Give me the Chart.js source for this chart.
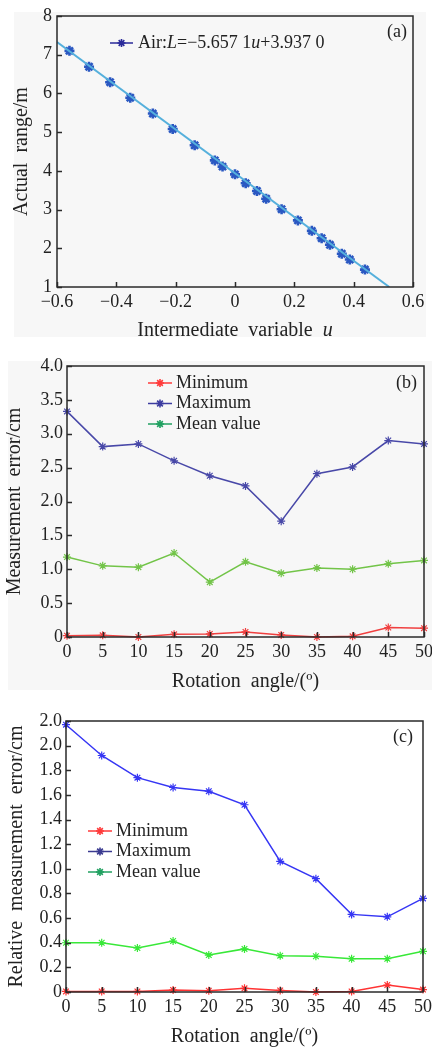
<!DOCTYPE html>
<html>
<head>
<meta charset="utf-8">
<script src="https://cdn.jsdelivr.net/npm/chart.js@4.4.1/dist/chart.umd.min.js"></script>
<style>
  body { margin: 0; background: #fff; width: 432px; height: 1047px; position: relative; overflow: hidden; }
  .bg { position: absolute; background: #f7f7f7; }
  canvas { position: absolute; left: 0; }
</style>
</head>
<body>
<div class="bg" style="left:14px;top:12px;width:412px;height:325px"></div>
<div class="bg" style="left:8px;top:361px;width:424px;height:329px"></div>
<canvas id="chartA" width="432" height="340" style="top:0"></canvas>
<canvas id="chartB" width="432" height="352" style="top:340px"></canvas>
<canvas id="chartC" width="432" height="355" style="top:692px"></canvas>
<script>
// ---- data ----
// (a) actual range vs intermediate variable u
const uValues = [-0.558, -0.492, -0.421, -0.353, -0.277, -0.210, -0.136, -0.068, -0.042, 0.000, 0.036,
                 0.074, 0.105, 0.157, 0.212, 0.259, 0.292, 0.320, 0.360, 0.387, 0.438];
const rangeValues = [7.10, 6.69, 6.29, 5.89, 5.48, 5.08, 4.66, 4.27, 4.11, 3.91, 3.68,
                     3.48, 3.28, 3.01, 2.72, 2.45, 2.26, 2.09, 1.86, 1.71, 1.45];
const fitU = [-0.6, 0.52];
const fitL = [7.33, 1.0];
const xTicksA = [-0.6, -0.4, -0.2, 0, 0.2, 0.4, 0.6];
const xTickLabelsA = ['\u22120.6', '\u22120.4', '\u22120.2', '0', '0.2', '0.4', '0.6'];
const yTicksA = [1, 2, 3, 4, 5, 6, 7, 8];
const yTickLabelsA = ['1', '2', '3', '4', '5', '6', '7', '8'];

// (b) measurement error, (c) relative measurement error
const angles = [0, 5, 10, 15, 20, 25, 30, 35, 40, 45, 50];
const angleLabels = ['0', '5', '10', '15', '20', '25', '30', '35', '40', '45', '50'];
const errMin = [0.02, 0.025, 0, 0.04, 0.045, 0.075, 0.03, 0, 0.01, 0.14, 0.13];
const errMax = [3.33, 2.81, 2.85, 2.60, 2.38, 2.23, 1.71, 2.41, 2.51, 2.90, 2.85];
const errMean = [1.18, 1.05, 1.03, 1.24, 0.81, 1.11, 0.94, 1.02, 1.00, 1.08, 1.13];
const yTicksB = [0, 0.5, 1, 1.5, 2, 2.5, 3, 3.5, 4];
const yTickLabelsB = ['0', '0.5', '1.0', '1.5', '2.0', '2.5', '3.0', '3.5', '4.0'];

const relMin = [0.005, 0.005, 0.005, 0.016, 0.01, 0.03, 0.013, 0, 0.005, 0.057, 0.02];
const relMax = [2.17, 1.92, 1.74, 1.66, 1.63, 1.52, 1.06, 0.92, 0.63, 0.61, 0.76];
const relMean = [0.40, 0.40, 0.357, 0.414, 0.30, 0.35, 0.295, 0.29, 0.27, 0.27, 0.33];
const yTicksC = [0, 0.2, 0.4, 0.6, 0.8, 1.0, 1.2, 1.4, 1.6, 1.8, 2.0, 2.2];
const yTickLabelsC = ['0', '0.2', '0.4', '0.6', '0.8', '1.0', '1.2', '1.4', '1.6', '1.8', '2.0', '2.0'];

const seriesNames = ['Minimum', 'Maximum', 'Mean value'];

// ---- helpers ----
const FAMILY = '"Liberation Serif", "DejaVu Serif", serif';
const font = (size, italic) => `${italic ? 'italic ' : ''}${size}px ${FAMILY}`;
const pts = (xs, ys) => xs.map((x, i) => ({ x: x, y: ys[i] }));

function drawStar(ctx, x, y, r, color, lw) {
  ctx.save();
  ctx.strokeStyle = color;
  ctx.lineWidth = lw;
  ctx.beginPath();
  for (let k = 0; k < 4; k++) {
    const a = k * Math.PI / 4;
    ctx.moveTo(x - r * Math.cos(a), y - r * Math.sin(a));
    ctx.lineTo(x + r * Math.cos(a), y + r * Math.sin(a));
  }
  ctx.stroke();
  ctx.restore();
}

function runsWidth(ctx, runs, size) {
  let w = 0;
  runs.forEach(r => { ctx.font = font(size, r.i); w += ctx.measureText(r.t).width; });
  return w;
}

function drawRuns(ctx, runs, x, y, size) {
  let cx = x;
  runs.forEach(r => {
    ctx.font = font(size, r.i);
    ctx.fillText(r.t, cx, y);
    cx += ctx.measureText(r.t).width;
  });
}

// frame, inward ticks, titles, legend
const panelPlugin = {
  id: 'panel',
  afterDraw(chart, args, opts) {
    const ctx = chart.ctx;
    const a = chart.chartArea;
    const xs = chart.scales.x, ys = chart.scales.y;
    ctx.save();
    ctx.strokeStyle = '#2a2a2a';
    ctx.lineWidth = 1.5;
    ctx.beginPath();
    xs.ticks.forEach(t => {
      const px = Math.round(xs.getPixelForValue(t.value)) + 0.5;
      ctx.moveTo(px, a.bottom); ctx.lineTo(px, a.bottom - 5);
    });
    ys.ticks.forEach(t => {
      const py = Math.round(ys.getPixelForValue(t.value)) + 0.5;
      ctx.moveTo(a.left, py); ctx.lineTo(a.left + 5, py);
    });
    ctx.stroke();
    ctx.strokeRect(a.left, a.top, a.right - a.left, a.bottom - a.top);

    ctx.fillStyle = '#222';
    ctx.textBaseline = 'middle';
    // x title
    const xt = opts.xTitle;
    const xw = runsWidth(ctx, xt.runs, xt.size);
    drawRuns(ctx, xt.runs, (a.left + a.right) / 2 - xw / 2, xt.y, xt.size);
    // y title
    const yt = opts.yTitle;
    ctx.save();
    ctx.translate(yt.x, (a.top + a.bottom) / 2);
    ctx.rotate(-Math.PI / 2);
    const yw = runsWidth(ctx, yt.runs, yt.size);
    drawRuns(ctx, yt.runs, -yw / 2, 0, yt.size);
    ctx.restore();
    // panel tag
    ctx.font = font(18);
    ctx.textAlign = 'right';
    ctx.fillText(opts.tag.text, opts.tag.x, opts.tag.y);
    ctx.textAlign = 'left';
    // legend
    const lg = opts.legend;
    lg.items.forEach((it, i) => {
      const y = lg.y + i * lg.gap;
      ctx.strokeStyle = it.color;
      ctx.lineWidth = 1.5;
      ctx.beginPath();
      ctx.moveTo(lg.x1, y); ctx.lineTo(lg.x2, y);
      ctx.stroke();
      drawStar(ctx, (lg.x1 + lg.x2) / 2, y, 4, it.color, 1.6);
      ctx.fillStyle = '#222';
      drawRuns(ctx, it.runs, lg.tx, y, lg.size);
    });
    ctx.restore();
  }
};

function fixedX(h) {
  return scale => { scale.height = h; scale.paddingLeft = 0; scale.paddingRight = 0; };
}
function fixedY(w) {
  return scale => { scale.width = w; scale.paddingTop = 0; scale.paddingBottom = 0; };
}
function setTicks(values) {
  return scale => { scale.ticks = values.map(v => ({ value: v })); };
}

function axis(min, max, values, labels, fit, pad) {
  return {
    type: 'linear',
    min: min,
    max: max,
    grid: { display: false, drawTicks: false },
    border: { display: false },
    afterBuildTicks: setTicks(values),
    afterFit: fit,
    ticks: {
      padding: pad,
      color: '#222',
      font: { family: FAMILY, size: 18 },
      autoSkip: false,
      maxRotation: 0,
      callback: (v, i) => labels[i]
    }
  };
}

function lineSet(data, color) {
  return {
    data: data,
    borderColor: color,
    backgroundColor: color,
    borderWidth: 1.5,
    pointStyle: 'star',
    pointRadius: 4,
    pointBorderWidth: 1.2,
    pointBorderColor: color,
    tension: 0,
    clip: 5
  };
}

const common = {
  responsive: false,
  animation: false,
  devicePixelRatio: 1,
  events: []
};

// ---- (a) ----
new Chart(document.getElementById('chartA'), {
  type: 'scatter',
  data: {
    datasets: [
      {
        data: pts(fitU, fitL),
        showLine: true,
        borderColor: '#55b0dc',
        borderWidth: 2,
        pointRadius: 0,
        clip: 0
      },
      {
        data: pts(uValues, rangeValues),
        showLine: false,
        pointStyle: 'star',
        pointRadius: 5,
        pointBorderWidth: 2.6,
        pointBorderColor: '#2a58c2',
        pointBackgroundColor: '#2a58c2'
      }
    ]
  },
  options: Object.assign({}, common, {
    layout: { padding: { left: 0, right: 19, top: 16, bottom: 0 } },
    scales: {
      x: axis(-0.6, 0.6, xTicksA, xTickLabelsA, fixedX(53), 4),
      y: axis(1, 8, yTicksA, yTickLabelsA, fixedY(57), 5)
    },
    plugins: {
      legend: { display: false },
      tooltip: { enabled: false },
      panel: {
        xTitle: { y: 331, size: 20, runs: [{ t: 'Intermediate  variable  ' }, { t: 'u', i: true }] },
        yTitle: { x: 22, size: 20, runs: [{ t: 'Actual  range/m' }] },
        tag: { text: '(a)', x: 407, y: 32 },
        legend: {
          x1: 110, x2: 133, tx: 138, y: 43, gap: 20, size: 18,
          items: [{ color: '#2a2a9a', runs: [{ t: 'Air:' }, { t: 'L', i: true }, { t: '=\u22125.657 1' }, { t: 'u', i: true }, { t: '+3.937 0' }] }]
        }
      }
    }
  }),
  plugins: [panelPlugin]
});

// ---- (b) ----
new Chart(document.getElementById('chartB'), {
  type: 'line',
  data: {
    datasets: [
      lineSet(pts(angles, errMin), '#f04040'),
      lineSet(pts(angles, errMax), '#4848a8'),
      lineSet(pts(angles, errMean), '#72c448')
    ]
  },
  options: Object.assign({}, common, {
    layout: { padding: { left: 0, right: 8, top: 26, bottom: 0 } },
    scales: {
      x: axis(0, 50, angles, angleLabels, fixedX(55), 4),
      y: axis(0, 4, yTicksB, yTickLabelsB, fixedY(67), 4)
    },
    plugins: {
      legend: { display: false },
      tooltip: { enabled: false },
      panel: {
        xTitle: { y: 342, size: 20, runs: [{ t: 'Rotation  angle/(\u00ba)' }] },
        yTitle: { x: 15, size: 20, runs: [{ t: 'Measurement  error/cm' }] },
        tag: { text: '(b)', x: 417, y: 43 },
        legend: {
          x1: 148, x2: 172, tx: 176, y: 43, gap: 20.5, size: 18,
          items: [
            { color: '#ff3a3a', runs: [{ t: seriesNames[0] }] },
            { color: '#3c3ca0', runs: [{ t: seriesNames[1] }] },
            { color: '#20a060', runs: [{ t: seriesNames[2] }] }
          ]
        }
      }
    }
  }),
  plugins: [panelPlugin]
});

// ---- (c) ----
new Chart(document.getElementById('chartC'), {
  type: 'line',
  data: {
    datasets: [
      lineSet(pts(angles, relMin), '#ff3333'),
      lineSet(pts(angles, relMax), '#3636f4'),
      lineSet(pts(angles, relMean), '#38e838')
    ]
  },
  options: Object.assign({}, common, {
    layout: { padding: { left: 0, right: 9, top: 29, bottom: 0 } },
    scales: {
      x: axis(0, 50, angles, angleLabels, fixedX(55), 4),
      y: axis(0, 2.2, yTicksC, yTickLabelsC, fixedY(66), 4)
    },
    plugins: {
      legend: { display: false },
      tooltip: { enabled: false },
      panel: {
        xTitle: { y: 345, size: 20, runs: [{ t: 'Rotation  angle/(\u00ba)' }] },
        yTitle: { x: 17, size: 20, runs: [{ t: 'Relative  measurement  error/cm' }] },
        tag: { text: '(c)', x: 413, y: 45 },
        legend: {
          x1: 88, x2: 112, tx: 116, y: 139, gap: 20.5, size: 18,
          items: [
            { color: '#ff3a3a', runs: [{ t: seriesNames[0] }] },
            { color: '#3a3a90', runs: [{ t: seriesNames[1] }] },
            { color: '#20a060', runs: [{ t: seriesNames[2] }] }
          ]
        }
      }
    }
  }),
  plugins: [panelPlugin]
});
</script>
</body>
</html>
